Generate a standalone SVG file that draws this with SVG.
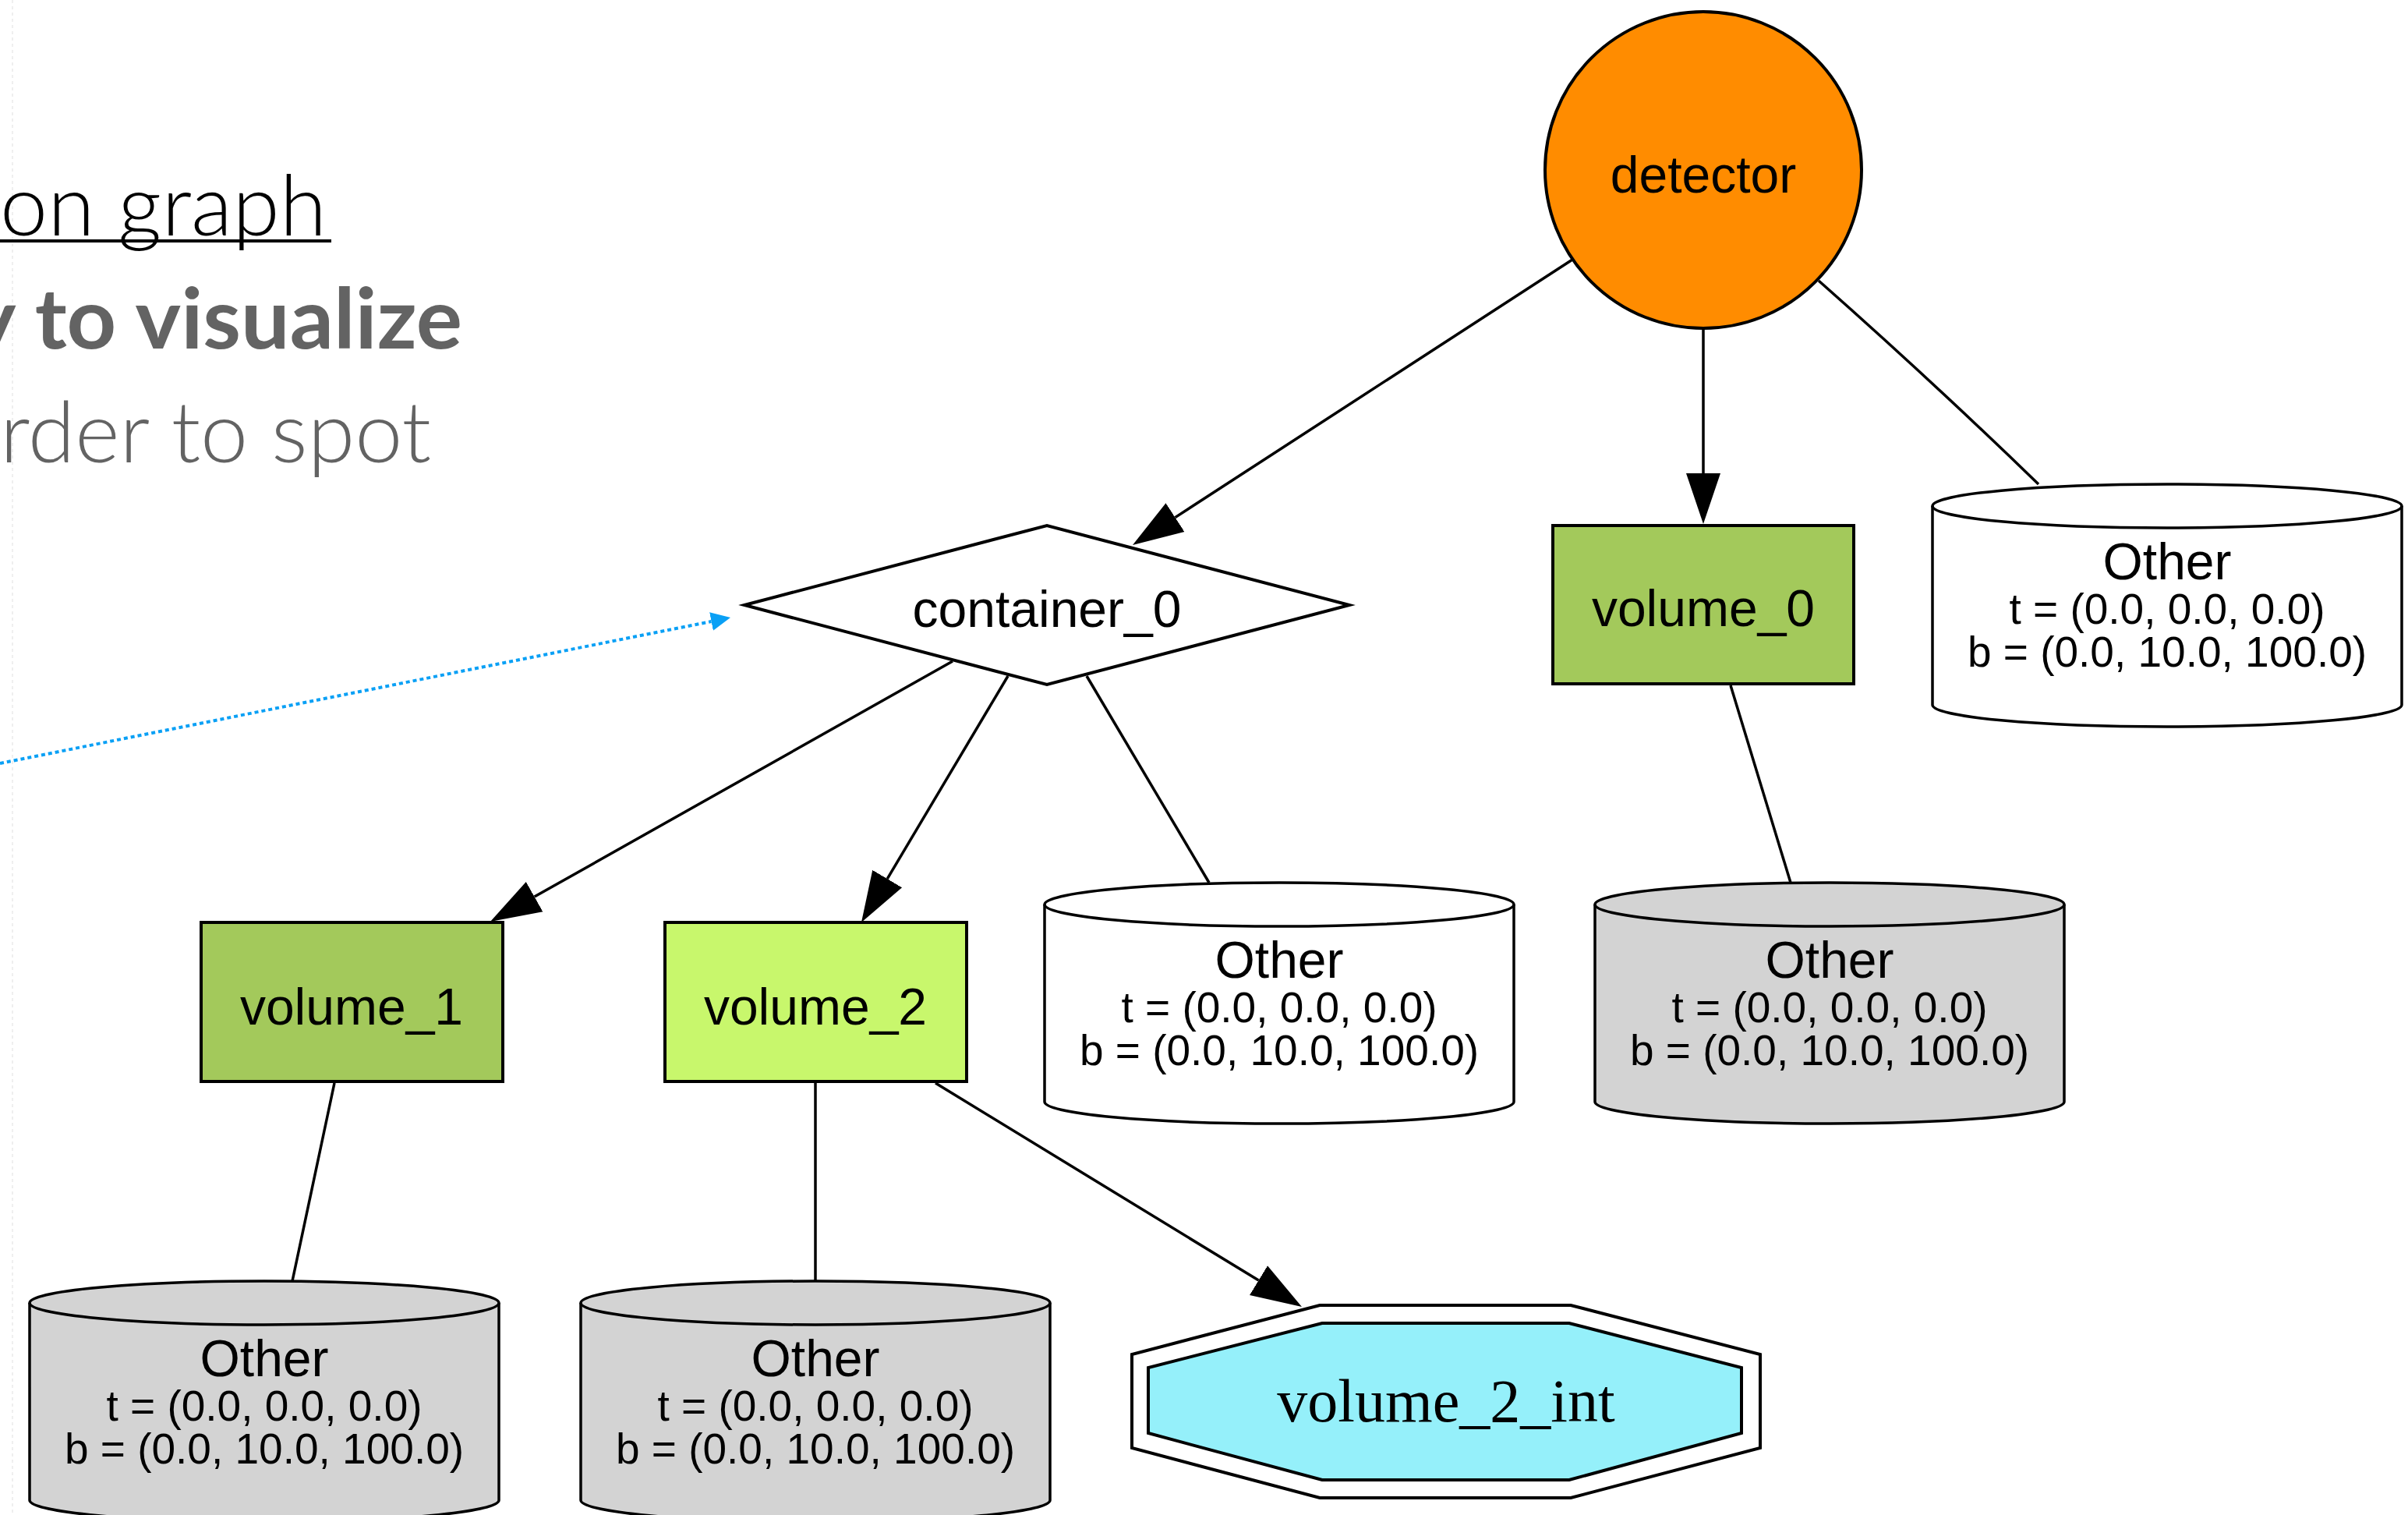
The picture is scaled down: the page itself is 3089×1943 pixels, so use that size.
<svg xmlns="http://www.w3.org/2000/svg" width="3089" height="1943" viewBox="0 0 3089 1943">
<style>
.lbl{font-family:"Liberation Sans",Arial,sans-serif;font-size:66px;fill:#000;text-anchor:middle}
.sm{font-family:"Liberation Sans",Arial,sans-serif;font-size:55px;fill:#000;text-anchor:middle}
.edge{stroke:#000;stroke-width:3.5;fill:none}
.shape{stroke:#000;stroke-width:4}
.cyl{stroke:#000;stroke-width:3.5}
.head{font-family:Lato,"Open Sans",sans-serif}
</style>
<defs>
<marker id="arr" markerUnits="userSpaceOnUse" markerWidth="66" markerHeight="46" refX="0" refY="22" orient="auto" viewBox="0 0 66 44">
<path d="M0,0 L65,22 L0,44 Z" fill="#000"/>
</marker>
<marker id="barr" markerUnits="userSpaceOnUse" markerWidth="26" markerHeight="26" refX="0" refY="12" orient="auto" viewBox="0 0 26 24">
<path d="M0,0 L25,12 L0,24 Z" fill="#0aa0f5"/>
</marker>
</defs>
<rect width="3089" height="1943" fill="#fff"/>
<line x1="16" y1="0" x2="16" y2="1943" stroke="#efefef" stroke-width="2" stroke-dasharray="4 4"/>
<g id="heading">
<text class="head" x="0" y="302" font-size="108" font-weight="300" fill="#000" textLength="419" lengthAdjust="spacingAndGlyphs">on graph</text>
<line x1="0" y1="309" x2="425" y2="309" stroke="#000" stroke-width="4"/>
<text class="head" x="-38" y="447" font-size="108" font-weight="700" fill="#636363" textLength="631" lengthAdjust="spacingAndGlyphs">y to visualize</text>
<text class="head" x="0" y="593" font-size="108" font-weight="300" fill="#636363" textLength="553" lengthAdjust="spacingAndGlyphs">rder to spot</text>
</g>
<g id="connectors">
<line class="edge" x1="2017" y1="333" x2="1507.5" y2="663.6" marker-end="url(#arr)"/>
<line class="edge" x1="2185" y1="421" x2="2185" y2="607" marker-end="url(#arr)"/>
<path class="edge" d="M2333,360 Q2480,490 2615,621"/>
<line class="edge" x1="1222" y1="848" x2="685.6" y2="1150.1" marker-end="url(#arr)"/>
<line class="edge" x1="1293" y1="867" x2="1138.2" y2="1127.1" marker-end="url(#arr)"/>
<line class="edge" x1="1394" y1="867" x2="1551" y2="1132"/>
<line class="edge" x1="2220" y1="879" x2="2297" y2="1132"/>
<line class="edge" x1="429" y1="1389" x2="375" y2="1643"/>
<line class="edge" x1="1046" y1="1389" x2="1046" y2="1643"/>
<line class="edge" x1="1200" y1="1389" x2="1614.5" y2="1642.1" marker-end="url(#arr)"/>
<line x1="0" y1="979" x2="912.5" y2="797" stroke="#0aa0f5" stroke-width="4" stroke-dasharray="5 4" marker-end="url(#barr)"/>
</g>
<g id="detector">
<circle class="shape" cx="2185" cy="218" r="203" fill="#ff8c00"/>
<text class="lbl" x="2185" y="247">detector</text>
</g>
<g id="container_0">
<polygon class="shape" points="955,776 1343,674 1731,776 1343,878" fill="#fff"/>
<text class="lbl" x="1343" y="804">container_0</text>
</g>
<g id="volume_0">
<rect class="shape" x="1992" y="674" width="386" height="203" fill="#a3c95b"/>
<text class="lbl" x="2185" y="803">volume_0</text>
</g>
<g id="other_top">
<path class="cyl" fill="#fff" d="M2479,649 A301,28 0 0 1 3081,649 L3081,904 A301,28 0 0 1 2479,904 Z"/>
<path class="cyl" fill="none" d="M2479,649 A301,28 0 0 0 3081,649"/>
<text class="lbl" x="2780" y="743">Other</text>
<text class="sm" x="2780" y="800">t = (0.0, 0.0, 0.0)</text>
<text class="sm" x="2780" y="855">b = (0.0, 10.0, 100.0)</text>
</g>
<g id="volume_1">
<rect class="shape" x="258" y="1183" width="387" height="204" fill="#a3c95b"/>
<text class="lbl" x="451" y="1314">volume_1</text>
</g>
<g id="volume_2">
<rect class="shape" x="853" y="1183" width="387" height="204" fill="#c8f76c"/>
<text class="lbl" x="1046" y="1314">volume_2</text>
</g>
<g id="other_mid">
<path class="cyl" fill="#fff" d="M1340,1160 A301,28 0 0 1 1942,1160 L1942,1413 A301,28 0 0 1 1340,1413 Z"/>
<path class="cyl" fill="none" d="M1340,1160 A301,28 0 0 0 1942,1160"/>
<text class="lbl" x="1641" y="1254">Other</text>
<text class="sm" x="1641" y="1311">t = (0.0, 0.0, 0.0)</text>
<text class="sm" x="1641" y="1366">b = (0.0, 10.0, 100.0)</text>
</g>
<g id="other_v0">
<path class="cyl" fill="#d3d3d3" d="M2046,1160 A301,28 0 0 1 2648,1160 L2648,1413 A301,28 0 0 1 2046,1413 Z"/>
<path class="cyl" fill="none" d="M2046,1160 A301,28 0 0 0 2648,1160"/>
<text class="lbl" x="2347" y="1254">Other</text>
<text class="sm" x="2347" y="1311">t = (0.0, 0.0, 0.0)</text>
<text class="sm" x="2347" y="1366">b = (0.0, 10.0, 100.0)</text>
</g>
<g id="other_v1">
<path class="cyl" fill="#d3d3d3" d="M38,1671 A301,28 0 0 1 640,1671 L640,1924 A301,28 0 0 1 38,1924 Z"/>
<path class="cyl" fill="none" d="M38,1671 A301,28 0 0 0 640,1671"/>
<text class="lbl" x="339" y="1765">Other</text>
<text class="sm" x="339" y="1822">t = (0.0, 0.0, 0.0)</text>
<text class="sm" x="339" y="1877">b = (0.0, 10.0, 100.0)</text>
</g>
<g id="other_v2">
<path class="cyl" fill="#d3d3d3" d="M745,1671 A301,28 0 0 1 1347,1671 L1347,1924 A301,28 0 0 1 745,1924 Z"/>
<path class="cyl" fill="none" d="M745,1671 A301,28 0 0 0 1347,1671"/>
<text class="lbl" x="1046" y="1765">Other</text>
<text class="sm" x="1046" y="1822">t = (0.0, 0.0, 0.0)</text>
<text class="sm" x="1046" y="1877">b = (0.0, 10.0, 100.0)</text>
</g>
<g id="volume_2_int">
<polygon class="shape" fill="#fff" points="1693,1674 2015,1674 2258,1737 2258,1857 2015,1921 1693,1921 1452,1857 1452,1737"/>
<polygon class="shape" fill="#95f0fa" points="1696,1697 2013,1697 2234,1754 2234,1838 2013,1898 1696,1898 1473,1838 1473,1754"/>
<text x="1855" y="1823" font-family="'Liberation Serif','Times New Roman',serif" font-size="78" text-anchor="middle">volume_2_int</text>
</g>
</svg>
